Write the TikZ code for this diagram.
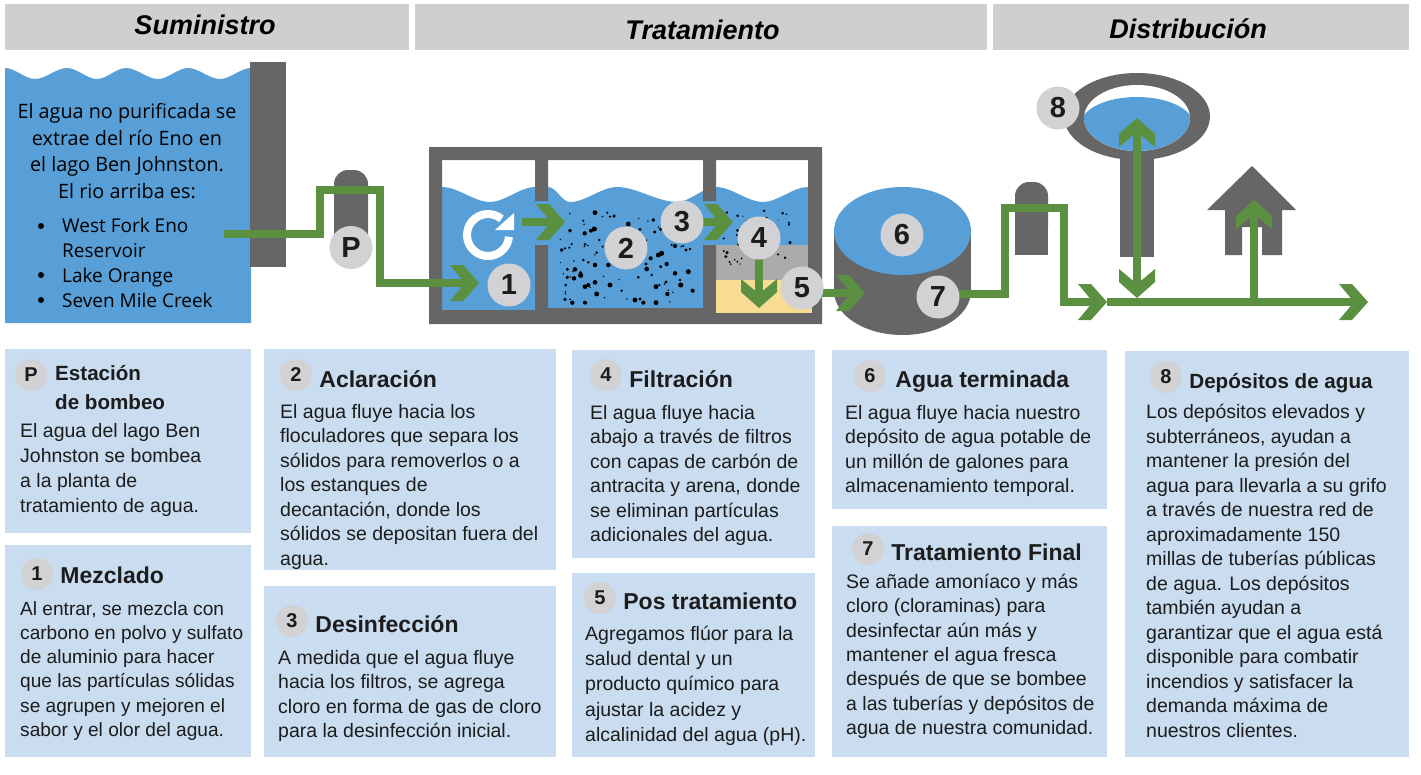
\documentclass[tikz,border=0pt]{standalone}
\usepackage{fontspec}
\setmainfont{Liberation Sans}
\newfontfamily\lakefont{Open Sans}
\usetikzlibrary{arrows.meta, positioning}

\definecolor{waterblue}{HTML}{579FD6}
\definecolor{wallgray}{HTML}{666666}
\definecolor{pipegreen}{HTML}{5A9040}
\definecolor{boxblue}{HTML}{C9DCF0}
\definecolor{headgray}{HTML}{CFCFD1}
\definecolor{badgegray}{HTML}{D2D2D4}
\definecolor{inkdark}{HTML}{1C1C1C}
\definecolor{sandyellow}{HTML}{F8DC94}
\definecolor{filtergray}{HTML}{ABABAB}

% chunky chevron head for the flow line
\pgfdeclarearrow{
    name=flowtip,
    setup code={
        \pgfarrowssettipend{0pt}
        \pgfarrowssetlineend{-11pt}
        \pgfarrowssetvisualbackend{-29pt}
        \pgfarrowssetbackend{-29pt}
        \pgfarrowshullpoint{0pt}{0pt}
        \pgfarrowshullpoint{-29pt}{18pt}
        \pgfarrowshullpoint{-29pt}{-18pt}
    },
    drawing code={
        \pgfpathmoveto{\pgfpoint{0pt}{0pt}}
        \pgfpathlineto{\pgfpoint{-16pt}{18pt}}
        \pgfpathlineto{\pgfpoint{-29pt}{18pt}}
        \pgfpathlineto{\pgfpoint{-14pt}{0pt}}
        \pgfpathlineto{\pgfpoint{-29pt}{-18pt}}
        \pgfpathlineto{\pgfpoint{-16pt}{-18pt}}
        \pgfpathclose
        \pgfusepathqfill
    }
}

\begin{document}
\begin{tikzpicture}[
        x=1pt, y=-1pt,
        headbar/.style={fill=headgray, minimum height=46pt, inner sep=0pt},
        headtext/.style={inner sep=0pt, font=\fontsize{27}{30}\selectfont\bfseries\itshape, text=black},
        infobox/.style={fill=boxblue},
        badge/.style={circle, fill=badgegray, minimum size=43pt, inner sep=0pt, font=\fontsize{29}{30}\selectfont\bfseries, text=inkdark},
        smallbadge/.style={circle, fill=badgegray, minimum size=32pt, inner sep=0pt, font=\fontsize{20}{24}\selectfont\bfseries, text=inkdark},
        title/.style={right=7pt of #1, yshift=-3pt, inner sep=0pt, font=\fontsize{23}{26}\selectfont\bfseries, text=inkdark, align=left},
        body/.style={anchor=north west, inner sep=0pt, align=left, font=\fontsize{19.5}{24.5}\selectfont, text=inkdark},
        lake/.style={inner sep=0pt, font=\fontsize{19.8}{26.7}\selectfont\lakefont, text=black},
        pipe/.style={draw=pipegreen, line width=8pt},
        wave/.style={out=0, in=180, looseness=0.8}
    ]
        \useasboundingbox (0,0) rectangle (1421,774);

        % section bars
        \fill [headbar] (5,4) rectangle (409,50);
        \fill [headbar] (415,4) rectangle (987,50);
        \fill [headbar] (993,4) rectangle (1409,50);
        \node (supply) [headtext] at (205,25) {Suministro};
        \node (treat) [headtext] at (702.5,30) {Tratamiento};
        \node (deliver) [headtext] at (1188,29) {Distribución};

        % lake and dam
        \fill [waterblue] (5,68) to[wave] (35,79) to[wave] (67,68) to[wave] (97,79) to[wave] (126,68)
            to[wave] (158,79) to[wave] (188,68) to[wave] (220,79) to[wave] (251,68) -- (251,323) -- (5,323) -- cycle;
        \fill [wallgray] (250,62) rectangle (286,267);
        \node (laketext) [lake, align=center] at (127,151) {El agua no purificada se\\extrae del río Eno en\\el lago Ben Johnston.\\El rio arriba es:};
        \node (lakelist) [lake, anchor=north west, align=left, font=\fontsize{19}{24.8}\selectfont\lakefont] at (62,218)
            {West Fork Eno\\Reservoir\\Lake Orange\\Seven Mile Creek};
        \foreach \dotline in {226,275,300}
            \fill [black] (41,\dotline) circle (3);

        % first pump
        \fill [wallgray, rounded corners=14pt] (334,250) -- (334,170) -- (368,170) -- (368,250) -- cycle;

        % treatment tank, water first and the walls over it
        \fill [waterblue] (442,187) to[wave] (490,202) to[wave] (535,187) -- (548,187) to[wave] (570,202) to[wave] (617,187)
            to[wave] (677,202) to[wave] (716,187) to[wave] (763,202) to[wave] (808,187) -- (808,310) -- (442,310) -- cycle;
        \fill [filtergray] (716,245) rectangle (808,280);
        \fill [wallgray, even odd rule] (429,147) rectangle (822,324) (442,160) rectangle (808,310);
        \fill [wallgray] (535,160) rectangle (548,201) (535,245) rectangle (548,310);
        \fill [wallgray] (703,160) rectangle (716,201) (703,245) rectangle (716,310);
        \fill [wallgray] (548,308) rectangle (703,310);
        \fill [sandyellow] (716,280) rectangle (812,313);

        % floc in the two chambers
        \pgfmathsetseed{7}
        \foreach \X/\Y in {525/248,562/248,570/260,582/258,490/272,625/282,513/302,523/297,450/302,494/310,
                660/298,700/270,704/306,722/298,495/343,455/342,448/353,435/355,425/360,538/330,548/350,530/368,
                525/405,505/397,490/390,565/405,442/418,465/418,442/442,482/428,482/436,462/445,437/465,505/465,
                495/470,525/457,570/465,605/482,655/442,695/435,678/402,680/417,725/370,715/375,692/385,740/402,
                722/410,755/345,765/348,790/348,798/360,810/357,765/430,805/425,780/450,782/465,738/456,718/465,
                708/470,742/492,818/482,495/518,457/518,435/508,450/508,530/492,670/518,708/518,645/510,660/507}{
            \pgfmathsetmacro{\pr}{1+1.6*rnd}
            \fill [black] (420+\X/3,130+\Y/3) circle (\pr);
        }
        \foreach \i in {1,...,40}{
            \pgfmathsetmacro{\px}{555+142*rnd}
            \pgfmathsetmacro{\py}{212+90*rnd}
            \fill [black] (\px,\py) circle (0.8);
        }
        \foreach \i in {1,...,45}{
            \pgfmathsetmacro{\px}{718+72*rnd}
            \pgfmathsetmacro{\py}{210+56*rnd}
            \pgfmathsetmacro{\pr}{0.6+1.2*rnd}
            \fill [black] (\px,\py) circle (\pr);
        }

        % mixing symbol
        \draw [white, line width=8pt] (488,235) ++(-50:21) arc[start angle=-50, end angle=-355, radius=21];
        \fill [white] (514,213) -- (514,230) -- (495,230) -- cycle;

        % clear well
        \fill [wallgray] (834,231) rectangle (971,291);
        \fill [wallgray] (902.5,291) ellipse [x radius=68.5, y radius=44];
        \fill [waterblue] (902.5,231) ellipse [x radius=68.5, y radius=44];

        % second pump
        \fill [wallgray, rounded corners=14pt] (1015,240) -- (1015,182) -- (1048,182) -- (1048,240) -- cycle;
        \fill [wallgray] (1015,225) rectangle (1048,255);

        % elevated tank
        \fill [wallgray] (1120,150) rectangle (1154,257);
        \fill [wallgray] (1137,116.5) ellipse [x radius=73, y radius=43.5];
        \fill [white] (1137,118) ellipse [x radius=53, y radius=33];
        \begin{scope}
            \clip (1137,118) ellipse [x radius=53, y radius=33];
            \fill [waterblue] (1137,124) ellipse [x radius=56, y radius=27];
        \end{scope}

        % house
        \fill [wallgray] (1252,166) -- (1296,210) -- (1282,210) -- (1282,255) -- (1262,255) -- (1262,227)
            -- (1242,227) -- (1242,255) -- (1225,255) -- (1225,210) -- (1207,210) -- cycle;

        % flow line, corners are named so the runs stay square
        \coordinate (intake) at (224,234);
        \coordinate (riseP) at (320,190);
        \coordinate (dropP) at (380,283);
        \coordinate (inlet) at (479,283);
        \coordinate (mixfrom) at (522,222);
        \coordinate (mixto) at (565,222);
        \coordinate (disfrom) at (682,222);
        \coordinate (disto) at (733,222);
        \coordinate (filterfrom) at (759,238);
        \coordinate (sandto) at (759,308);
        \coordinate (postfrom) at (802,293);
        \coordinate (postto) at (865,293);
        \coordinate (wellout) at (938,294);
        \coordinate (riseW) at (1005,208);
        \coordinate (dropW) at (1064,302);
        \coordinate (mainto) at (1107,302);
        \coordinate (mainend) at (1368,302);
        \coordinate (towerfoot) at (1137,298);
        \coordinate (towertop) at (1137,118);
        \coordinate (housefoot) at (1254,302);
        \coordinate (housetop) at (1254,200);

        \draw [pipe, -{flowtip}] (intake) -| (riseP) -| (dropP) |- (inlet);
        \draw [pipe, -{flowtip}] (mixfrom) -- (mixto);
        \draw [pipe, -{flowtip}] (disfrom) -- (disto);
        \draw [pipe, -{flowtip}] (filterfrom) -- (sandto);
        \draw [pipe, -{flowtip}] (postfrom) -- (postto);
        \draw [pipe, -{flowtip}] (wellout) -| (riseW) -| (dropW) -- (mainto);
        \draw [pipe, -{flowtip}] (mainto) -- (mainend);
        \draw [pipe, {flowtip}-{flowtip}] (towerfoot) -- (towertop);
        \draw [pipe, -{flowtip}] (housefoot) -- (housetop);

        % markers on the flow line
        \node (mP) [badge] at (351,247.5) {P};
        \node (m1) [badge] at (509,285) {1};
        \node (m2) [badge] at (626,248) {2};
        \node (m3) [badge] at (682,222) {3};
        \node (m4) [badge] at (759,238) {4};
        \node (m5) [badge] at (802,288) {5};
        \node (m6) [badge] at (902,235) {6};
        \node (m7) [badge] at (938,297) {7};
        \node (m8) [badge] at (1058,108) {8};

        % text panels
        \fill [infobox] (5,349) rectangle (251,533);
        \fill [infobox] (5,545) rectangle (251,757);
        \fill [infobox] (264,349) rectangle (556,570);
        \fill [infobox] (264,586) rectangle (556,757);
        \fill [infobox] (572,350) rectangle (815,558);
        \fill [infobox] (572,573) rectangle (815,757);
        \fill [infobox] (832,350) rectangle (1107,509);
        \fill [infobox] (832,526) rectangle (1107,757);
        \fill [infobox] (1125,351) rectangle (1409,757);

        \node (bP) [smallbadge] at (31,375) {P};
        \node (hP) [inner sep=0pt, font=\fontsize{20.6}{29}\selectfont\bfseries, text=inkdark, anchor=north west, align=left] at (55,365) {Estación\\de bombeo};
        \node (tP) [body, font=\fontsize{19.5}{25}\selectfont] at (20,423) {El agua del lago Ben\\Johnston se bombea\\a la planta de\\tratamiento de agua.};

        \node (b1) [smallbadge] at (37,574) {1};
        \node (h1) [title=b1, yshift=2pt] {Mezclado};
        \node (t1) [body, font=\fontsize{19.1}{24.3}\selectfont] at (20,601) {Al entrar, se mezcla con\\carbono en polvo y sulfato\\de aluminio para hacer\\que las partículas sólidas\\se agrupen y mejoren el\\sabor y el olor del agua.};

        \node (b2) [smallbadge] at (296,375) {2};
        \node (h2) [title=b2, yshift=-1pt] {Aclaración};
        \node (t2) [body] at (280,404) {El agua fluye hacia los\\floculadores que separa los\\sólidos para removerlos o a\\los estanques de\\decantación, donde los\\sólidos se depositan fuera del\\agua.};

        \node (b3) [smallbadge] at (292,621) {3};
        \node (h3) [title=b3] {Desinfección};
        \node (t3) [body] at (278,650) {A medida que el agua fluye\\hacia los filtros, se agrega\\cloro en forma de gas de cloro\\para la desinfección inicial.};

        \node (b4) [smallbadge] at (606,375) {4};
        \node (h4) [title=b4, yshift=-1pt] {Filtración};
        \node (t4) [body] at (590,405) {El agua fluye hacia\\abajo a través de filtros\\con capas de carbón de\\antracita y arena, donde\\se eliminan partículas\\adicionales del agua.};

        \node (b5) [smallbadge] at (600,598) {5};
        \node (h5) [title=b5] {Pos tratamiento};
        \node (t5) [body, font=\fontsize{19.5}{25.2}\selectfont] at (585,626) {Agregamos flúor para la\\salud dental y un\\producto químico para\\ajustar la acidez y\\alcalinidad del agua (pH).};

        \node (b6) [smallbadge] at (870,376) {6};
        \node (h6) [title=b6, yshift=-3pt, xshift=2pt] {Agua terminada};
        \node (t6) [body] at (845,405) {El agua fluye hacia nuestro\\depósito de agua potable de\\un millón de galones para\\almacenamiento temporal.};

        \node (b7) [smallbadge] at (868,549) {7};
        \node (h7) [title=b7] {Tratamiento Final};
        \node (t7) [body, font=\fontsize{19.5}{24.3}\selectfont] at (846,574) {Se añade amoníaco y más\\cloro (cloraminas) para\\desinfectar aún más y\\mantener el agua fresca\\después de que se bombee\\a las tuberías y depósitos de\\agua de nuestra comunidad.};

        \node (b8) [smallbadge] at (1166,377) {8};
        \node (h8) [title=b8, yshift=-3pt, font=\fontsize{20.6}{26}\selectfont\bfseries] {Depósitos de agua};
        \node (t8) [body] at (1146,404) {Los depósitos elevados y\\subterráneos, ayudan a\\mantener la presión del\\agua para llevarla a su grifo\\a través de nuestra red de\\aproximadamente 150\\millas de tuberías públicas\\de agua. Los depósitos\\también ayudan a\\garantizar que el agua está\\disponible para combatir\\incendios y satisfacer la\\demanda máxima de\\nuestros clientes.};
    \end{tikzpicture}
\end{document}
